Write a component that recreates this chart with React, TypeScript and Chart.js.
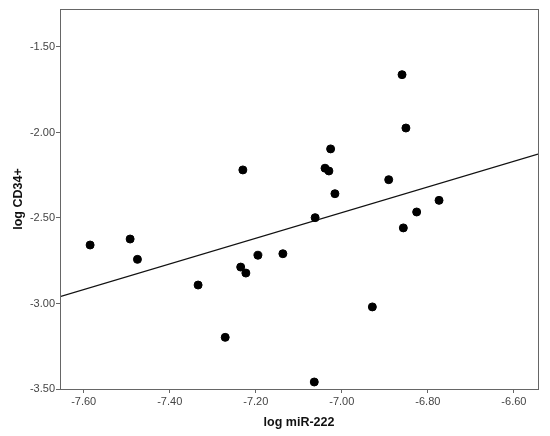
import React, { useEffect, useRef } from "react";
import { Chart, registerables } from "chart.js";

Chart.register(...registerables);

const mirValues = [-7.585, -7.492, -7.475, -7.334, -7.271, -7.235, -7.223, -7.195, -7.230, -7.137, -7.064, -7.062, -7.026, -7.039, -7.030, -7.016, -6.891, -6.860, -6.851, -6.826, -6.774, -6.857, -6.929];
const cd34Values = [-2.658, -2.623, -2.742, -2.892, -3.198, -2.787, -2.822, -2.718, -2.219, -2.709, -3.459, -2.498, -2.096, -2.209, -2.225, -2.358, -2.276, -1.662, -1.974, -2.465, -2.397, -2.558, -3.020];
const fitX = [-7.655, -6.544];
const fitY = [-2.960, -2.126];
const xTicks = [-7.6, -7.4, -7.2, -7.0, -6.8, -6.6];
const yTicks = [-3.5, -3.0, -2.5, -2.0, -1.5];
const xRange = [-7.655, -6.544];
const yRange = [-3.5, -1.278];

export default function App() {
  const ref = useRef<HTMLCanvasElement | null>(null);
  useEffect(() => {
    if (!ref.current) return;
    const frame = {
      id: "frame",
      afterDatasetsDraw(chart: any) {
        const { ctx, chartArea: a } = chart;
        ctx.save();
        ctx.strokeStyle = "#666";
        ctx.lineWidth = 1;
        ctx.strokeRect(a.left + 0.5, a.top + 0.5, a.right - a.left, a.bottom - a.top);
        ctx.restore();
      },
    };
    const chart = new Chart(ref.current, {
      type: "scatter",
      data: {
        datasets: [
          {
            label: "points",
            data: mirValues.map((x, i) => ({ x, y: cd34Values[i] })),
            backgroundColor: "#000",
            borderColor: "#000",
            pointRadius: 4,
          },
          {
            type: "line",
            label: "fit",
            data: fitX.map((x, i) => ({ x, y: fitY[i] })),
            borderColor: "#111",
            borderWidth: 1.3,
            pointRadius: 0,
            fill: false,
          } as any,
        ],
      },
      options: {
        animation: false,
        responsive: false,
        maintainAspectRatio: false,
        layout: { padding: { left: 7, top: 9, right: 12, bottom: 6 } },
        plugins: { legend: { display: false }, tooltip: { enabled: false } },
        scales: {
          x: {
            type: "linear",
            min: xRange[0],
            max: xRange[1],
            afterBuildTicks: (s: any) => {
              s.ticks = xTicks.map((v) => ({ value: v }));
            },
            afterFit: (s: any) => {
              s.height = 41;
            },
            grid: { display: true, drawOnChartArea: false, drawTicks: true, tickLength: 4, color: "#666" },
            border: { display: true, color: "#666" },
            ticks: {
              color: "#444",
              font: { family: "Liberation Sans", size: 11 },
              padding: 2,
              maxRotation: 0,
              callback: (v: any) => Number(v).toFixed(2),
            },
            title: {
              display: true,
              text: "log miR-222",
              color: "#111",
              font: { family: "Liberation Sans", size: 12.5, weight: "bold" },
              padding: { top: 0, bottom: 0 },
            },
          },
          y: {
            type: "linear",
            min: yRange[0],
            max: yRange[1],
            afterBuildTicks: (s: any) => {
              s.ticks = yTicks.map((v) => ({ value: v }));
            },
            afterFit: (s: any) => {
              s.width = 53;
            },
            grid: { display: true, drawOnChartArea: false, drawTicks: true, tickLength: 4, color: "#666" },
            border: { display: true, color: "#666" },
            ticks: {
              color: "#444",
              font: { family: "Liberation Sans", size: 11 },
              padding: 1,
              callback: (v: any) => Number(v).toFixed(2),
            },
            title: {
              display: true,
              text: "log CD34+",
              color: "#111",
              font: { family: "Liberation Sans", size: 12.5, weight: "bold" },
              padding: { top: 4, bottom: 0 },
            },
          },
        },
      },
      plugins: [frame],
    });
    return () => chart.destroy();
  }, []);
  return (
    <div style={{ position: "fixed", left: 0, top: 0, width: 550, height: 436, background: "#fff" }}>
      <canvas ref={ref} width={550} height={436} style={{ width: 550, height: 436 }} />
    </div>
  );
}
